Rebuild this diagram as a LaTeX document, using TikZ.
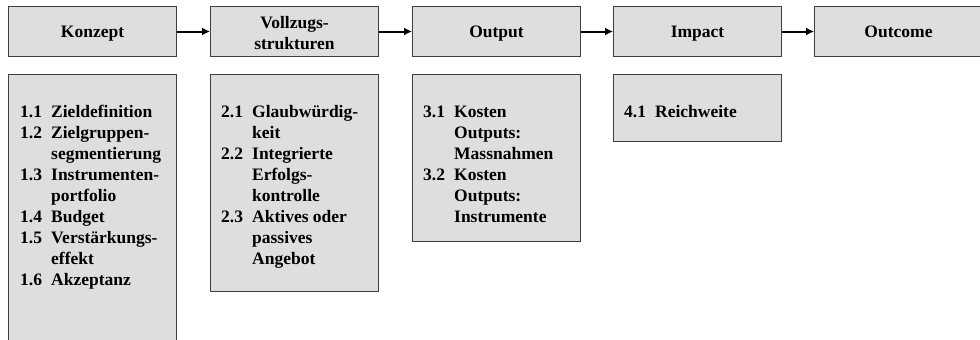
\documentclass[tikz,border=0pt]{standalone}
\usepackage{fontspec}
\setmainfont{Liberation Serif}
\usetikzlibrary{arrows.meta}
\definecolor{boxfill}{HTML}{DEDEDE}
\definecolor{boxline}{HTML}{404040}
\newcommand{\itm}[1]{\makebox[31pt][l]{#1}}
\tikzset{
  headbox/.style={draw=boxline, line width=1pt, fill=boxfill, rectangle,
    minimum width=168pt, minimum height=50pt, anchor=north west, inner sep=0pt,
    text height=13pt, text depth=1pt,
    font=\fontsize{17.5}{21}\selectfont\bfseries},
  listbox/.style={draw=boxline, line width=1pt, fill=boxfill, rectangle,
    minimum width=168pt, anchor=north west, inner sep=0pt},
  listtext/.style={anchor=base west, inner sep=0pt,
    font=\fontsize{17.5}{21}\selectfont\bfseries},
  flow/.style={line width=2pt, -{Latex[length=8pt,width=8pt]}}
}
\begin{document}
\begin{tikzpicture}[x=1pt,y=-1pt]
\useasboundingbox (0,0) rectangle (980,340);
\clip (0,0) rectangle (980,340);
\fill[white] (0,0) rectangle (980,340);
% head boxes
\node[headbox] (h1) at (8,6) {Konzept};
\node[headbox, text height=37pt, text depth=1pt] (h2) at (210,6)
  {\begin{tabular}[b]{@{}c@{}}Vollzugs-\\strukturen\end{tabular}};
\node[headbox] (h3) at (412,6) {Output};
\node[headbox] (h4) at (613,6) {Impact};
\node[headbox] (h5) at (814,6) {Outcome};
\draw[flow] (h1) -- (h2);
\draw[flow] (h2) -- (h3);
\draw[flow] (h3) -- (h4);
\draw[flow] (h4) -- (h5);
% list boxes
\node[listbox, minimum height=280pt] (b1) at (8,74) {};
\node[listbox, minimum height=217pt] (b2) at (210,74) {};
\node[listbox, minimum height=167pt] (b3) at (412,74) {};
\node[listbox, minimum height=67pt] (b4) at (613,74) {};
% list texts
\node[listtext] (t1) at (20,117) {\begin{tabular}[t]{@{}l@{}l@{}}
\itm{1.1}&Zieldefinition\\
\itm{1.2}&Zielgruppen-\\
&segmentierung\\
\itm{1.3}&Instrumenten-\\
&portfolio\\
\itm{1.4}&Budget\\
\itm{1.5}&Verstärkungs-\\
&effekt\\
\itm{1.6}&Akzeptanz
\end{tabular}};
\node[listtext] (t2) at (221,117) {\begin{tabular}[t]{@{}l@{}l@{}}
\itm{2.1}&Glaubwürdig-\\
&keit\\
\itm{2.2}&Integrierte\\
&Erfolgs-\\
&kontrolle\\
\itm{2.3}&Aktives oder\\
&passives\\
&Angebot
\end{tabular}};
\node[listtext] (t3) at (423,117) {\begin{tabular}[t]{@{}l@{}l@{}}
\itm{3.1}&Kosten\\
&Outputs:\\
&Massnahmen\\
\itm{3.2}&Kosten\\
&Outputs:\\
&Instrumente
\end{tabular}};
\node[listtext] (t4) at (624,117) {\begin{tabular}[t]{@{}l@{}l@{}}
\itm{4.1}&Reichweite
\end{tabular}};
\end{tikzpicture}
\end{document}
